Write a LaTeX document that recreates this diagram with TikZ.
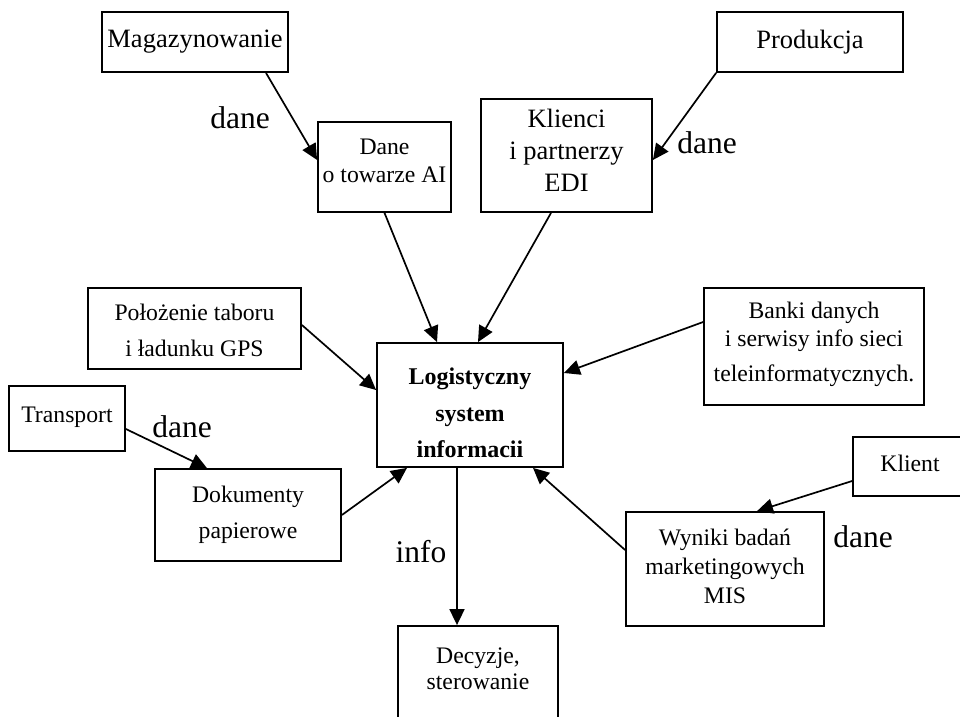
\documentclass[tikz,border=0pt]{standalone}
\usepackage{fontspec}
\setmainfont{Liberation Serif}
\usetikzlibrary{arrows.meta}
\begin{document}
\begin{tikzpicture}[x=1pt,y=-1pt,
  box/.style={draw,line width=1.8pt,inner sep=0pt},
  txt/.style={align=center,inner sep=0pt,font=\fontsize{23.7}{28}\selectfont},
  bigtxt/.style={align=center,inner sep=0pt,font=\fontsize{26.5}{32}\selectfont},
  lbl/.style={inner sep=0pt,font=\fontsize{31.5}{36}\selectfont},
  conn/.style={line width=1.7pt,-{Triangle[length=16pt,width=15pt]}}]
\useasboundingbox (0,0) rectangle (960,716);
\clip (0,0) rectangle (960,716);

% boxes
\node[box,minimum width=186pt,minimum height=60pt]  (mag)    at (195,42)    {};
\node[box,minimum width=186pt,minimum height=60pt]  (prod)   at (810,42)    {};
\node[box,minimum width=133pt,minimum height=90pt]  (dane)   at (384.5,167) {};
\node[box,minimum width=171pt,minimum height=113pt] (kli)    at (566.5,155.5) {};
\node[box,minimum width=213pt,minimum height=81pt]  (gps)    at (194.5,328.5) {};
\node[box,minimum width=186pt,minimum height=124pt] (lsi)    at (470,405)   {};
\node[box,minimum width=220pt,minimum height=117pt] (bank)   at (814,346.5) {};
\node[box,minimum width=116pt,minimum height=65pt]  (trans)  at (67,418.5)  {};
\node[box,minimum width=186pt,minimum height=92pt]  (dok)    at (248,515)   {};
\node[box,minimum width=114pt,minimum height=59pt]  (klient) at (910,466.5) {};
\node[box,minimum width=198pt,minimum height=114pt] (wyn)    at (725,569)   {};
\node[box,minimum width=160pt,minimum height=120pt] (dec)    at (478,686)   {};

% box texts
\node[bigtxt] (magT)  at (195,42)  {Magazynowanie};
\node[bigtxt] (prodT) at (810,42)  {Produkcja};
\node[txt] (daneT) at (384.5,161) {Dane\\o towarze AI};
\node[bigtxt] (kliT) at (566.5,150) {Klienci\\i partnerzy\\EDI};
\node[txt,font=\fontsize{23.7}{36}\selectfont] (gpsT) at (194.5,330) {Położenie taboru\\i ładunku GPS};
\node[txt,font=\fontsize{24}{36.5}\selectfont\bfseries] (lsiT) at (470,413) {Logistyczny\\system\\informacii};
\node[txt] (bankT) at (814,344) {Banki danych\\i serwisy info sieci\\[7pt]teleinformatycznych.};
\node[txt] (transT) at (67,417) {Transport};
\node[txt,font=\fontsize{23.7}{36}\selectfont] (dokT) at (248,515) {Dokumenty\\papierowe};
\node[txt] (klientT) at (910,463) {Klient};
\node[txt,font=\fontsize{23.7}{29}\selectfont] (wynT) at (725,566) {Wyniki badań\\marketingowych\\MIS};
\node[txt,font=\fontsize{23.7}{26}\selectfont] (decT) at (478,669) {Decyzje,\\sterowanie};

% connectors
\draw[conn] ([xshift=71pt]mag.south) -- ([yshift=7pt]dane.west);
\draw[conn] (prod.south west) -- ([yshift=-4.5pt]kli.east);
\draw[conn] (dane.south) -- ([xshift=-33pt]lsi.north);
\draw[conn] ([xshift=-15.5pt]kli.south) -- ([xshift=8pt]lsi.north);
\draw[conn] ([yshift=3.5pt]gps.east) -- ([yshift=15pt]lsi.west);
\draw[conn] ([yshift=24.5pt]bank.west) -- ([yshift=32pt]lsi.east);
\draw[conn] ([yshift=-10.5pt]trans.east) -- ([xshift=-41pt]dok.north);
\draw[conn] (dok.east) -- ([xshift=-63pt]lsi.south);
\draw[conn] ([yshift=-14.5pt]klient.west) -- ([xshift=32pt]wyn.north);
\draw[conn] ([yshift=19pt]wyn.west) -- ([xshift=63pt]lsi.south);
\draw[conn] ([xshift=-13pt]lsi.south) -- ([xshift=-21pt]dec.north);

% connector labels
\node[lbl] (l1) at (240,118) {dane};
\node[lbl] (l2) at (707,143) {dane};
\node[lbl] (l3) at (182,427) {dane};
\node[lbl] (l4) at (863,537) {dane};
\node[lbl] (l5) at (421,552) {info};
\end{tikzpicture}
\end{document}
